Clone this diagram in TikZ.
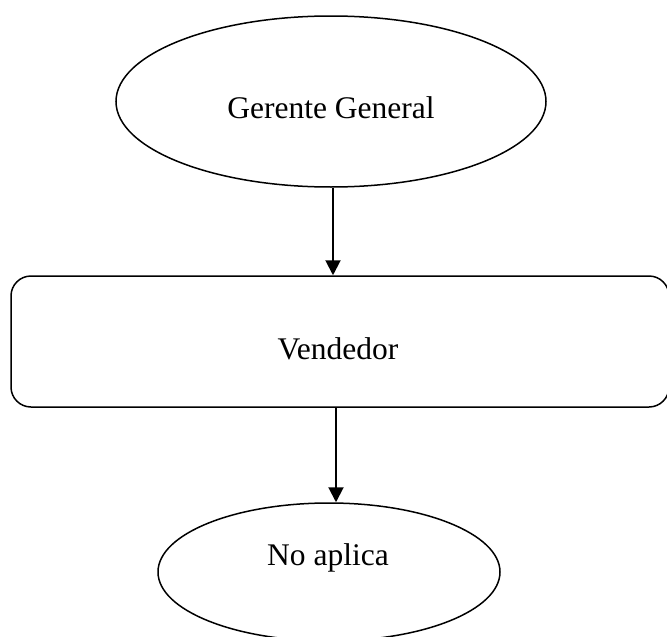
\documentclass[tikz,border=0pt]{standalone}
\usepackage{fontspec}
\setmainfont{Liberation Serif}
\usetikzlibrary{shapes.geometric,arrows.meta}
\begin{document}
\begin{tikzpicture}[x=1pt,y=-1pt,
  outline/.style={draw=black,line width=1.5pt,inner sep=0pt},
  oval/.style={outline,ellipse},
  box/.style={outline,rectangle,rounded corners=20pt},
  caption/.style={anchor=base,inner sep=0pt,font=\fontsize{31.5}{36}\selectfont},
  flow/.style={line width=2pt,-{Triangle[width=15pt,length=15pt]}}]
\clip (0,0) rectangle (667,637);
% organisation chart shapes
\node[oval,minimum width=430pt,minimum height=171pt] (ger) at (331,101.5) {};
\node[box,minimum width=658pt,minimum height=131pt] (ven) at (340,341.5) {};
\node[oval,minimum width=342pt,minimum height=138pt] (nap) at (329,572) {};
% labels
\node[caption] (gerlbl) at (331,118) {Gerente General};
\node[caption] (venlbl) at (338,359) {Vendedor};
\node[caption] (naplbl) at (328,565) {No aplica};
% connectors
\draw[flow] ([xshift=2pt]ger.south) -- ([xshift=2pt]ger.south |- ven.north);
\draw[flow] ([xshift=-4pt]ven.south) -- ([xshift=-4pt]ven.south |- nap.north);
\end{tikzpicture}
\end{document}
